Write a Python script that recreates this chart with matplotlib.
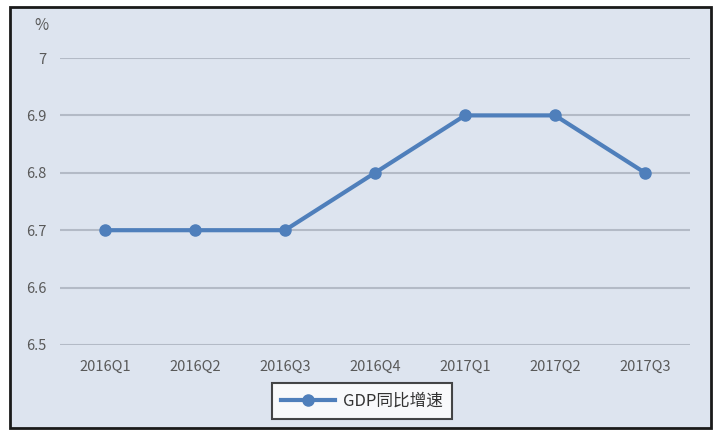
import matplotlib.pyplot as plt
from matplotlib.patches import Rectangle

plt.rcParams['font.family'] = ['Noto Sans CJK SC', 'DejaVu Sans']

quarters = ["2016Q1", "2016Q2", "2016Q3", "2016Q4", "2017Q1", "2017Q2", "2017Q3"]
gdp_growth = [6.7, 6.7, 6.7, 6.8, 6.9, 6.9, 6.8]
y_ticks = [6.5, 6.6, 6.7, 6.8, 6.9, 7.0]
y_labels = ["6.5", "6.6", "6.7", "6.8", "6.9", "7"]

bg = "#dde4ef"
text_color = "#595959"
line_color = "#4f7fbb"

fig = plt.figure(figsize=(7.2, 4.34), dpi=100)
fig.patch.set_facecolor("white")

# внешняя рамка графика
frame = Rectangle((10 / 720, 1 - 428 / 434), 701 / 720, 421 / 434,
                  transform=fig.transFigure, facecolor=bg,
                  edgecolor="#1a1a1a", linewidth=2, zorder=-10)
fig.patches.append(frame)

ax = fig.add_axes([60 / 720, 1 - 345 / 434, 630 / 720, 287 / 434])
ax.set_facecolor("none")
ax.set_zorder(5)

x = list(range(len(quarters)))
ax.plot(x, gdp_growth, color=line_color, linewidth=3, marker="o",
        markersize=8, label="GDP同比增速", zorder=3)

ax.set_xlim(-0.5, len(quarters) - 0.5)
ax.set_ylim(6.5, 7.0)
ax.set_yticks(y_ticks)
ax.set_yticklabels(y_labels)
ax.set_xticks(x)
ax.set_xticklabels(quarters)
ax.grid(axis="y", color="#b3bac6", linewidth=1.5)
ax.set_axisbelow(True)
for s in ax.spines.values():
    s.set_visible(False)
ax.tick_params(length=0, colors=text_color, labelsize=10.5)
ax.tick_params(axis="x", pad=11)
ax.tick_params(axis="y", pad=10)

fig.text(41 / 720, 1 - 25 / 434, "%", color=text_color, fontsize=11,
         ha="center", va="center", zorder=6)

leg = ax.legend(loc="center", bbox_to_anchor=(362 / 720, 1 - 401 / 434),
                bbox_transform=fig.transFigure, frameon=True, fancybox=False,
                fontsize=12, handlelength=3.2, borderpad=0.55,
                handletextpad=0.5, borderaxespad=0)
leg.get_frame().set_edgecolor("#1a1a1a")
leg.get_frame().set_linewidth(1.5)
leg.get_frame().set_facecolor("white")
for t in leg.get_texts():
    t.set_color("#333333")

fig.savefig("out.png", dpi=100, facecolor="white")
